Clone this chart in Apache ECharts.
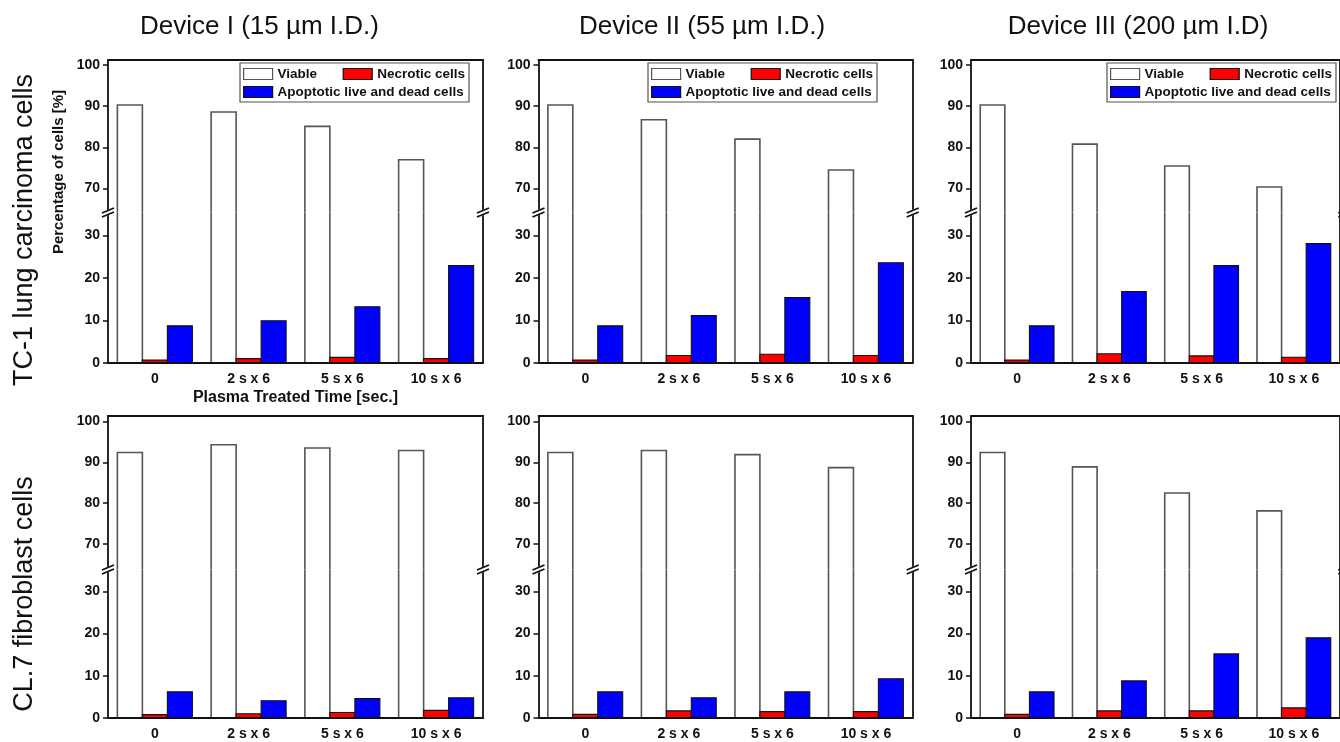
<!DOCTYPE html>
<html><head><meta charset="utf-8">
<script src="https://cdn.jsdelivr.net/npm/echarts@6/dist/echarts.min.js"></script>
<style>html,body{margin:0;padding:0;background:#fff}#c{width:1340px;height:742px}</style>
</head><body><div id="c"></div>
<script>
// ---------- DATA ----------
const categories = ['0', '2 s x 6', '5 s x 6', '10 s x 6'];
const seriesNames = ['Viable', 'Necrotic cells', 'Apoptotic live and dead cells'];
const columnTitles = ['Device I (15 µm I.D.)', 'Device II (55 µm I.D.)', 'Device III (200 µm I.D)'];
const rowTitles = ['TC-1 lung carcinoma cells', 'CL.7 fibroblast cells'];
const yAxisTitle = 'Percentage of cells [%]';
const xAxisTitle = 'Plasma Treated Time [sec.]';
const upperTicks = [70, 80, 90, 100];
const lowerTicks = [0, 10, 20, 30];

// TC-1 lung carcinoma cells
const tc1ViableDev1 = [90.3, 88.6, 85.1, 77.0];
const tc1NecroticDev1 = [0.6, 0.95, 1.25, 0.95];
const tc1ApoptoticDev1 = [8.7, 9.9, 13.2, 22.9];
const tc1ViableDev2 = [90.3, 86.7, 82.0, 74.5];
const tc1NecroticDev2 = [0.6, 1.7, 2.0, 1.7];
const tc1ApoptoticDev2 = [8.7, 11.1, 15.35, 23.6];
const tc1ViableDev3 = [90.3, 80.8, 75.5, 70.4];
const tc1NecroticDev3 = [0.6, 2.1, 1.6, 1.3];
const tc1ApoptoticDev3 = [8.7, 16.8, 22.9, 28.1];
// CL.7 fibroblast cells
const cl7ViableDev1 = [92.4, 94.3, 93.5, 92.9];
const cl7NecroticDev1 = [0.8, 1.0, 1.3, 1.8];
const cl7ApoptoticDev1 = [6.2, 4.1, 4.6, 4.8];
const cl7ViableDev2 = [92.4, 92.9, 91.9, 88.7];
const cl7NecroticDev2 = [0.85, 1.7, 1.5, 1.5];
const cl7ApoptoticDev2 = [6.2, 4.8, 6.2, 9.3];
const cl7ViableDev3 = [92.4, 88.9, 82.5, 78.1];
const cl7NecroticDev3 = [0.85, 1.7, 1.7, 2.4];
const cl7ApoptoticDev3 = [6.2, 8.8, 15.2, 19.0];

// ---------- LAYOUT / STYLE ----------
const FONT = '"Liberation Sans", Arial, sans-serif';
const INK = '#111';
const GROUP = 0.8;
const fills = ['#ffffff', '#ff0000', '#0000ff'];
const strokes = ['#555', '#111', '#111'];

const panels = [
  {row: 0, col: 0, vals: [tc1ViableDev1, tc1NecroticDev1, tc1ApoptoticDev1], legendLeft: 240},
  {row: 0, col: 1, vals: [tc1ViableDev2, tc1NecroticDev2, tc1ApoptoticDev2], legendLeft: 648},
  {row: 0, col: 2, vals: [tc1ViableDev3, tc1NecroticDev3, tc1ApoptoticDev3], legendLeft: 1107},
  {row: 1, col: 0, vals: [cl7ViableDev1, cl7NecroticDev1, cl7ApoptoticDev1]},
  {row: 1, col: 1, vals: [cl7ViableDev2, cl7NecroticDev2, cl7ApoptoticDev2]},
  {row: 1, col: 2, vals: [cl7ViableDev3, cl7NecroticDev3, cl7ApoptoticDev3]}
];
const colGeom = [
  {left: 108, width: 375},
  {left: 538.5, width: 374.2},
  {left: 971, width: 373.3}
];
const rowGeom = [
  {top: 60, breakY: 212.5, axisY: 362.7, upper: [64.2, 101.2], lower: [0, 35.45]},
  {top: 416, breakY: 569.5, axisY: 718, upper: [63.75, 101.35], lower: [0, 35.2]}
];

function makeRender(k, vmin, vmax) {
  return function (params, api) {
    const cat = api.value(0), v = api.value(1);
    if (v <= vmin) return null;
    const band = api.size([1, 0])[0];
    const w = band * GROUP / 3;
    const c = api.coord([cat, vmin]);
    const xl = c[0] + (k - 1.5) * w;
    const xr = xl + w;
    const yb = api.coord([cat, vmin > 0 ? vmin : 0])[1];
    const yt = api.coord([cat, Math.min(v, vmax)])[1];
    const openTop = v > vmax;
    const children = [{
      type: 'rect', shape: {x: xl, y: yt, width: w, height: yb - yt},
      style: {fill: fills[k]}
    }];
    const lw = k === 0 ? 1.6 : 1.1;
    if (openTop) {
      children.push({type: 'line', shape: {x1: xl, y1: yb, x2: xl, y2: yt}, style: {stroke: strokes[k], lineWidth: lw}});
      children.push({type: 'line', shape: {x1: xr, y1: yb, x2: xr, y2: yt}, style: {stroke: strokes[k], lineWidth: lw}});
    } else {
      children.push({type: 'polyline', shape: {points: [[xl, yb], [xl, yt], [xr, yt], [xr, yb]]},
        style: {stroke: strokes[k], lineWidth: lw, fill: null}});
    }
    return {type: 'group', children};
  };
}

const grids = [], xAxes = [], yAxes = [], series = [], legends = [], graphics = [];
const axisLineStyle = {color: INK, width: 1.8};
const labelStyle = {fontSize: 14, fontWeight: 'bold', color: INK, fontFamily: FONT};

function breakMark(x, b) {
  return {
    type: 'group', z: 100, children: [
      {type: 'polygon', shape: {points: [[x - 3, b - 1.5], [x + 3, b - 4], [x + 3, b + 1.5], [x - 3, b + 4]]},
        style: {fill: '#fff'}, z: 100},
      {type: 'line', shape: {x1: x - 6, y1: b + 0.5, x2: x + 6, y2: b - 4.5}, style: {stroke: INK, lineWidth: 1.8}, z: 101},
      {type: 'line', shape: {x1: x - 6, y1: b + 4.5, x2: x + 6, y2: b - 0.5}, style: {stroke: INK, lineWidth: 1.8}, z: 101}
    ]
  };
}

panels.forEach((p, pi) => {
  const cg = colGeom[p.col], rg = rowGeom[p.row];
  const gU = grids.length;
  grids.push({left: cg.left, width: cg.width, top: rg.top, height: rg.breakY - rg.top, containLabel: false});
  const gL = grids.length;
  grids.push({left: cg.left, width: cg.width, top: rg.breakY, height: rg.axisY - rg.breakY, containLabel: false});

  const xU = xAxes.length;
  xAxes.push({gridIndex: gU, type: 'category', data: categories, position: 'top', z: 5,
    axisLine: {lineStyle: axisLineStyle}, axisTick: {show: false}, axisLabel: {show: false}});
  const xL = xAxes.length;
  xAxes.push({gridIndex: gL, type: 'category', data: categories, position: 'bottom', z: 5,
    axisLine: {lineStyle: axisLineStyle},
    axisTick: {alignWithLabel: true, length: 5, lineStyle: {color: INK, width: 1.5}},
    axisLabel: Object.assign({margin: 9}, labelStyle)});

  function addY(gi, range, ticks) {
    const idx = yAxes.length;
    yAxes.push({gridIndex: gi, type: 'value', min: range[0], max: range[1], position: 'left', z: 5,
      axisLine: {show: true, lineStyle: axisLineStyle},
      axisTick: {show: true, length: 5, customValues: ticks, lineStyle: {color: INK, width: 1.5}},
      axisLabel: Object.assign({customValues: ticks, margin: 8}, labelStyle),
      splitLine: {show: false}});
    yAxes.push({gridIndex: gi, type: 'value', min: range[0], max: range[1], position: 'right', z: 5,
      axisLine: {show: true, lineStyle: axisLineStyle}, axisTick: {show: false}, axisLabel: {show: false},
      splitLine: {show: false}});
    return idx;
  }
  const yU = addY(gU, rg.upper, upperTicks);
  const yL = addY(gL, rg.lower, lowerTicks);

  const mkData = arr => categories.map((c, i) => [i, arr[i]]);
  series.push({
    type: 'custom', name: seriesNames[0], xAxisIndex: xU, yAxisIndex: yU,
    itemStyle: {color: fills[0], borderColor: strokes[0], borderWidth: 1},
    encode: {x: 0, y: 1}, data: mkData(p.vals[0]),
    renderItem: makeRender(0, rg.upper[0], rg.upper[1])
  });
  for (let k = 0; k < 3; k++) {
    series.push({
      type: 'custom', name: seriesNames[k], xAxisIndex: xL, yAxisIndex: yL,
      itemStyle: {color: fills[k], borderColor: strokes[k], borderWidth: 1},
      encode: {x: 0, y: 1}, data: mkData(p.vals[k]),
      renderItem: makeRender(k, rg.lower[0], rg.lower[1])
    });
  }

  if (p.legendLeft != null) {
    legends.push({
      left: p.legendLeft, top: 63, width: 226, orient: 'horizontal',
      padding: [4, 4, 3, 3], itemGap: 4, itemWidth: 29, itemHeight: 11,
      borderColor: '#555', borderWidth: 1.2, borderRadius: 0, icon: 'rect',
      selectedMode: false,
      textStyle: {fontSize: 13.5, fontWeight: 'bold', color: INK, fontFamily: FONT, lineHeight: 14},
      data: seriesNames.map((n, k) => {
        const d = {name: n, icon: 'rect', itemStyle: {color: fills[k], borderColor: strokes[k], borderWidth: 1.2}};
        if (k === 0) d.textStyle = {width: 61};
        return d;
      })
    });
  }

  graphics.push(breakMark(cg.left, rg.breakY));
  graphics.push(breakMark(cg.left + cg.width, rg.breakY));
});

const titleX = [259.5, 702, 1138];
columnTitles.forEach((t, i) => {
  graphics.push({type: 'text', x: titleX[i], y: 27, z: 50,
    style: {text: t, fontSize: 26, fontFamily: FONT, fill: INK, align: 'center', verticalAlign: 'middle'}});
});
const rowY = [230, 594];
rowTitles.forEach((t, i) => {
  graphics.push({type: 'text', x: 25, y: rowY[i], rotation: Math.PI / 2, z: 50,
    style: {text: t, fontSize: 27, fontFamily: FONT, fill: INK, align: 'center', verticalAlign: 'middle'}});
});
graphics.push({type: 'text', x: 58.5, y: 172, rotation: Math.PI / 2, z: 50,
  style: {text: yAxisTitle, fontSize: 15, fontWeight: 'bold', fontFamily: FONT, fill: INK, align: 'center', verticalAlign: 'middle'}});
graphics.push({type: 'text', x: 295.5, y: 398, z: 50,
  style: {text: xAxisTitle, fontSize: 16, fontWeight: 'bold', fontFamily: FONT, fill: INK, align: 'center', verticalAlign: 'middle'}});

const chart = echarts.init(document.getElementById('c'), null, {renderer: 'canvas'});
chart.setOption({
  backgroundColor: '#fff',
  animation: false,
  textStyle: {fontFamily: FONT},
  grid: grids, xAxis: xAxes, yAxis: yAxes, series: series, legend: legends,
  graphic: {elements: graphics}
});
</script></body></html>
